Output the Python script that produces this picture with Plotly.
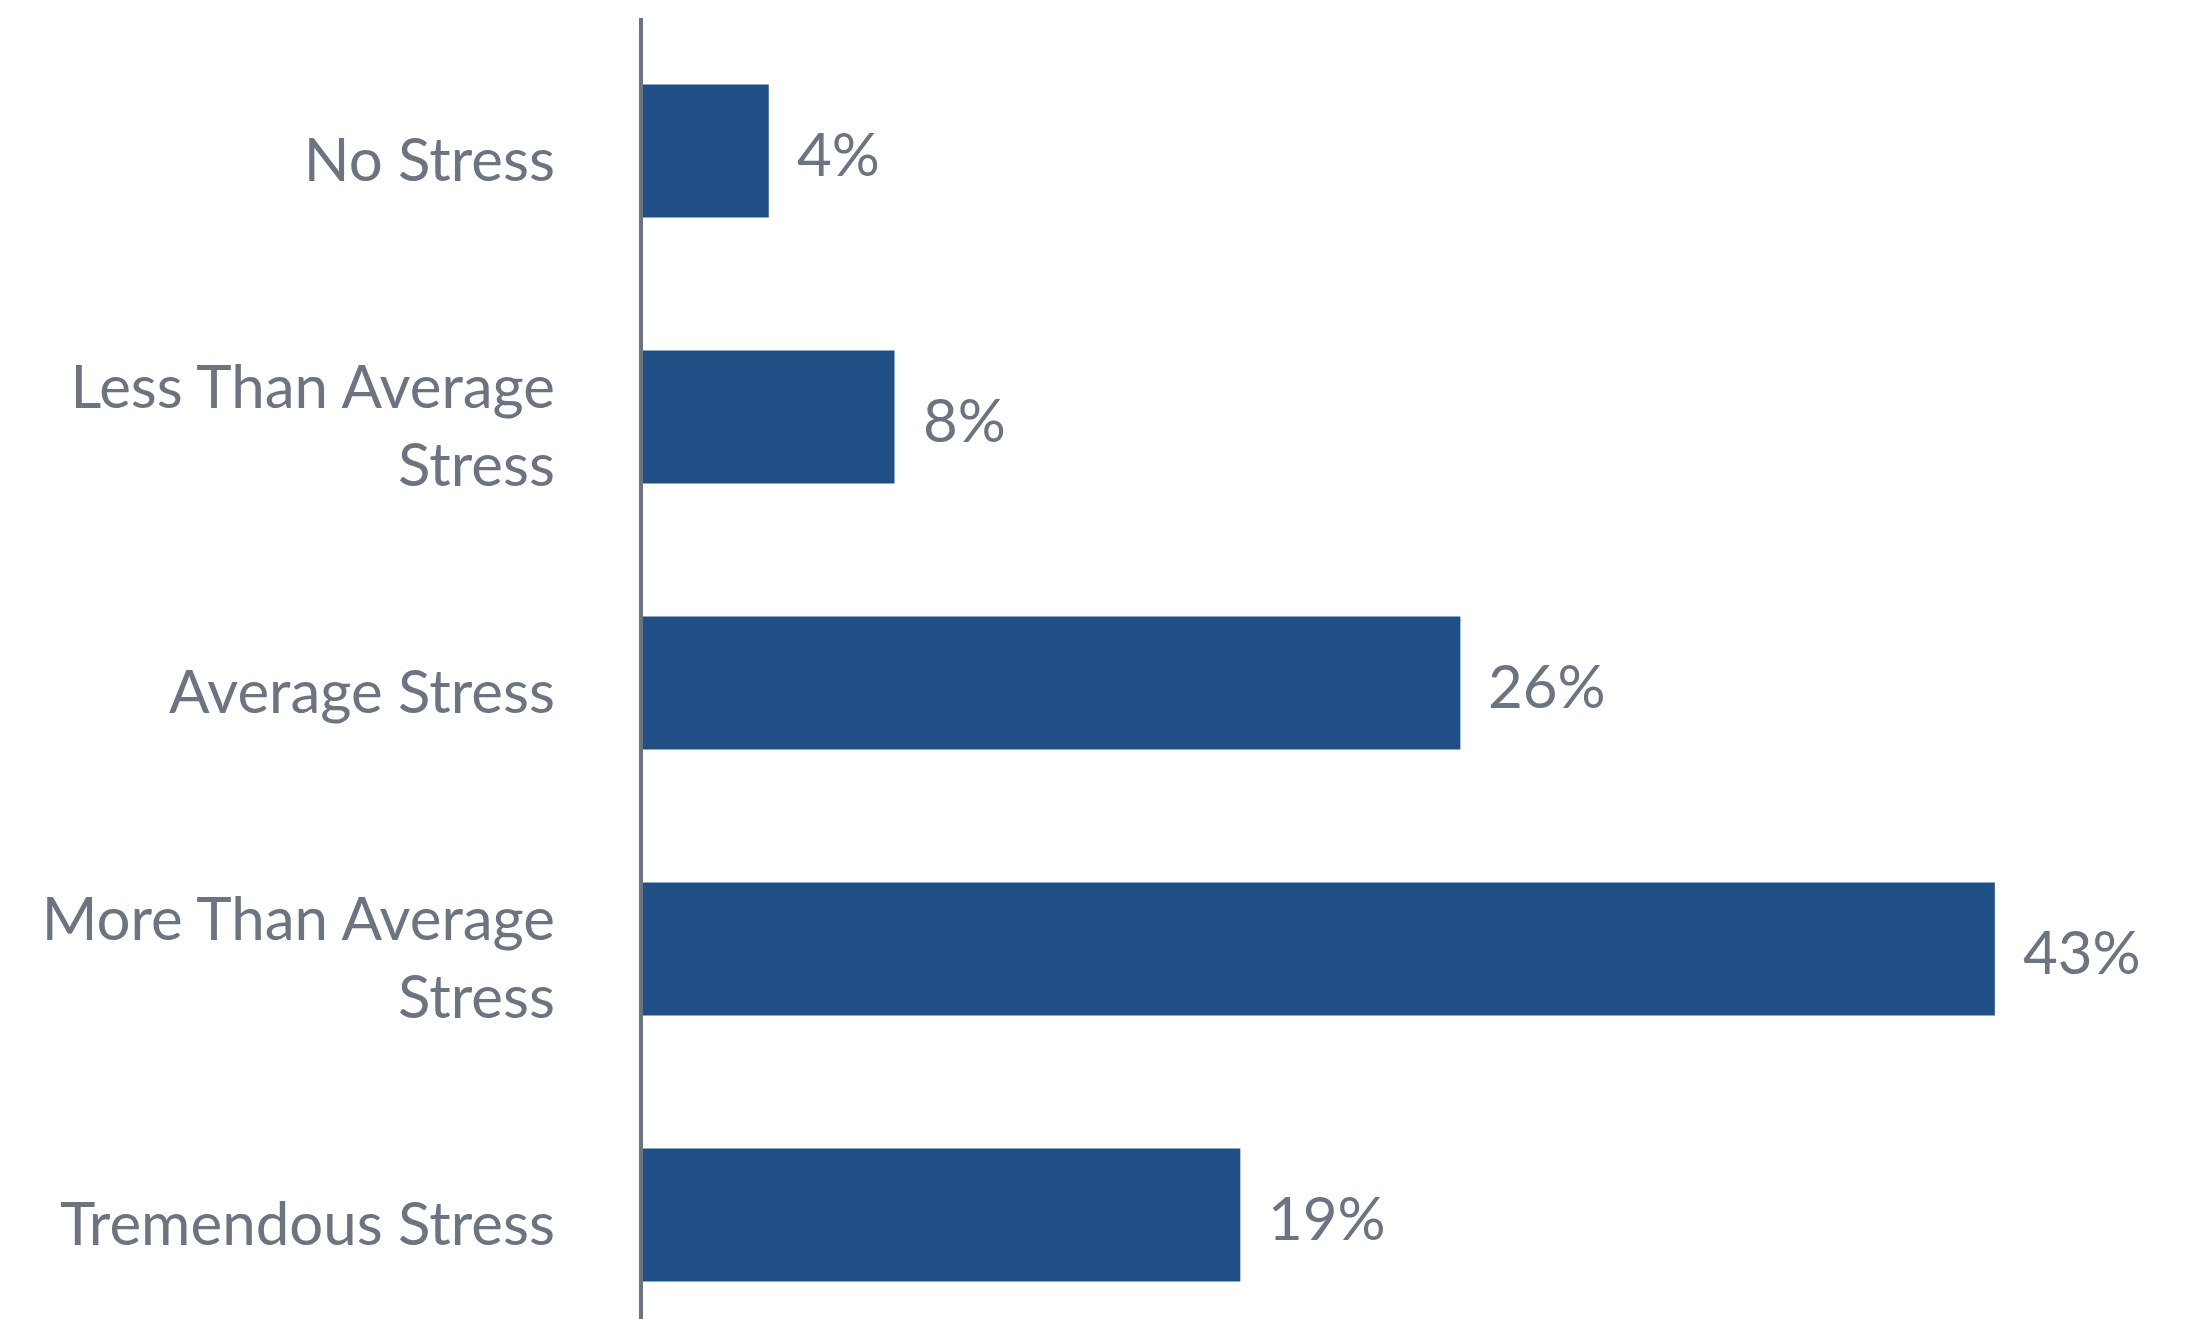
import plotly.graph_objects as go

categories = ["No Stress", "Less Than Average<br>Stress", "Average Stress",
              "More Than Average<br>Stress", "Tremendous Stress"]
values = [4, 8, 26, 43, 19]
value_labels = ["4%", "8%", "26%", "43%", "19%"]

BAR = "#1f4f85"
GRAY = "#6b7480"
FONT = "Lato, 'Open Sans', sans-serif"

fig = go.Figure()
fig.add_trace(go.Bar(
    x=values, y=categories, orientation="h",
    marker=dict(color=BAR, line=dict(width=0)),
    width=0.5, hoverinfo="skip",
))

for v, c, t in zip(values, categories, value_labels):
    fig.add_annotation(x=v, y=c, text=t, showarrow=False, xanchor="left",
                       yanchor="middle", xshift=26, yshift=-2,
                       font=dict(family=FONT, size=60, color=GRAY))

fig.update_layout(
    width=2194, height=1319,
    margin=dict(l=635, r=0, t=10, b=0),
    paper_bgcolor="white", plot_bgcolor="white",
    showlegend=False,
    xaxis=dict(range=[0, 49.59], visible=False, fixedrange=True),
    yaxis=dict(type="category", categoryarray=categories,
               range=[4.421, -0.5], showgrid=False, zeroline=False,
               showline=True, linecolor=GRAY, linewidth=4,
               ticks="", ticklabelstandoff=72, ticklabelshift=-9,
               tickfont=dict(family=FONT, size=60, color=GRAY)),
)

fig.write_html("out.html")
